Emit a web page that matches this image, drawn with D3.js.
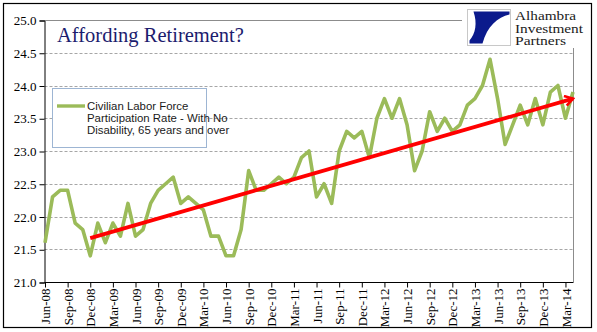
<!DOCTYPE html>
<html><head><meta charset="utf-8">
<script src="https://cdn.jsdelivr.net/npm/d3@7/dist/d3.min.js"></script>
<style>html,body{margin:0;padding:0;background:#fff;}svg{display:block;}</style>
</head><body><svg id="c" width="597" height="332"></svg>
<script>
const months = ["Jun-08","Jul-08","Aug-08","Sep-08","Oct-08","Nov-08","Dec-08","Jan-09","Feb-09","Mar-09","Apr-09","May-09",
"Jun-09","Jul-09","Aug-09","Sep-09","Oct-09","Nov-09","Dec-09","Jan-10","Feb-10","Mar-10","Apr-10","May-10",
"Jun-10","Jul-10","Aug-10","Sep-10","Oct-10","Nov-10","Dec-10","Jan-11","Feb-11","Mar-11","Apr-11","May-11",
"Jun-11","Jul-11","Aug-11","Sep-11","Oct-11","Nov-11","Dec-11","Jan-12","Feb-12","Mar-12","Apr-12","May-12",
"Jun-12","Jul-12","Aug-12","Sep-12","Oct-12","Nov-12","Dec-12","Jan-13","Feb-13","Mar-13","Apr-13","May-13",
"Jun-13","Jul-13","Aug-13","Sep-13","Oct-13","Nov-13","Dec-13","Jan-14","Feb-14","Mar-14","Apr-14"];
const rate = [21.6,22.3,22.4,22.4,21.9,21.8,21.4,21.9,21.6,21.9,21.7,22.2,
21.7,21.8,22.2,22.4,22.5,22.6,22.2,22.3,22.2,22.1,21.7,21.7,
21.4,21.4,21.8,22.7,22.4,22.4,22.5,22.6,22.5,22.6,22.9,23.0,
22.3,22.5,22.2,23.0,23.3,23.2,23.3,22.9,23.5,23.8,23.5,23.8,
23.4,22.7,23.0,23.6,23.3,23.5,23.3,23.4,23.7,23.8,24.0,24.4,
23.8,23.1,23.4,23.7,23.4,23.8,23.4,23.9,24.0,23.5,23.9];
const tickLabels = ["Jun-08","Sep-08","Dec-08","Mar-09","Jun-09","Sep-09","Dec-09","Mar-10","Jun-10","Sep-10","Dec-10","Mar-11",
"Jun-11","Sep-11","Dec-11","Mar-12","Jun-12","Sep-12","Dec-12","Mar-13","Jun-13","Sep-13","Dec-13","Mar-14"];
const yTicks = [21.0,21.5,22.0,22.5,23.0,23.5,24.0,24.5,25.0];
const trendMonths = ["Dec-08","Apr-14"];
const trendValues = [21.67,23.8];
const title = "Affording Retirement?";
const legendLines = ["Civilian Labor Force","Participation Rate - With No","Disability, 65 years and over"];
const logoLines = ["Alhambra","Investment","Partners"];

const svg = d3.select("#c");
const L = 44.5, R = 573, T = 20, B = 282;
const x = d3.scalePoint().domain(months).range([45, R]);
const y = d3.scaleLinear().domain([21, 25]).range([B, T]);
const serif = "'Liberation Serif','Times New Roman',serif";
const sans = "'Liberation Sans',Arial,sans-serif";

// gridlines
svg.append("g").selectAll("line").data(yTicks.filter(v => v > 21 && v < 25)).join("line")
  .attr("x1", L).attr("x2", R).attr("y1", d => Math.round(y(d)) + 0.5).attr("y2", d => Math.round(y(d)) + 0.5)
  .attr("stroke", "#a6a6a6").attr("stroke-dasharray", "3,2").attr("stroke-width", 1);
// plot border top/right
svg.append("path").attr("d", `M${L},${Math.round(y(25))+0.5}H${R+0.5}V${B}`)
  .attr("fill", "none").attr("stroke", "#8c8c8c").attr("stroke-width", 1);

// y axis
const yAxis = d3.axisLeft(y).tickValues(yTicks).tickFormat(d3.format(".1f")).tickSize(5).tickPadding(3);
const gy = svg.append("g").attr("transform", `translate(${L},0.5)`).call(yAxis);
gy.select(".domain").attr("stroke", "#000");
gy.selectAll(".tick line").attr("stroke", "#000");
gy.selectAll("text").attr("font-family", serif).attr("font-size", 13).attr("fill", "#000");

// x axis
const xAxis = d3.axisBottom(x).tickValues(tickLabels).tickSize(5).tickPadding(3);
const gx = svg.append("g").attr("transform", `translate(0,${B+0.5})`).call(xAxis);
gx.select(".domain").attr("stroke", "#000").attr("d", `M${L},0H${R+0.5}`);
gx.selectAll(".tick line").attr("stroke", "#000");
gx.selectAll("text").attr("font-family", serif).attr("font-size", 13).attr("fill", "#000")
  .attr("transform", "rotate(-90)").attr("text-anchor", "end")
  .attr("x", -6).attr("y", 0).attr("dy", "0.35em");

// series line
svg.append("path").datum(rate)
  .attr("d", d3.line().x((d, i) => x(months[i])).y(d => y(d)))
  .attr("fill", "none").attr("stroke", "#9bbb59").attr("stroke-width", 3.6).attr("stroke-linejoin", "round");

// trend arrow
svg.append("defs").append("marker").attr("id", "arr")
  .attr("viewBox", "-10 -6 12 12").attr("refX", 0).attr("refY", 0)
  .attr("markerWidth", 12).attr("markerHeight", 12).attr("markerUnits", "userSpaceOnUse").attr("orient", "auto")
  .append("path").attr("d", "M-8,-5L0,0L-8,5").attr("fill", "none").attr("stroke", "#ff0000").attr("stroke-width", 2.6);
svg.append("path").datum(trendMonths.map((m, i) => [x(m), y(trendValues[i])]))
  .attr("d", d3.line()).attr("fill", "none").attr("stroke", "#ff0000").attr("stroke-width", 3.8)
  .attr("marker-end", "url(#arr)");

// title
svg.append("text").attr("x", 57).attr("y", 42).text(title)
  .attr("font-family", serif).attr("font-size", 20.5).attr("fill", "#1c1c6e");

// legend
const lg = svg.append("g");
lg.append("rect").attr("x", 52.5).attr("y", 88.5).attr("width", 154).attr("height", 59)
  .attr("fill", "#fff").attr("stroke", "#9db5d3");
lg.append("line").attr("x1", 57).attr("x2", 85).attr("y1", 106).attr("y2", 106)
  .attr("stroke", "#9bbb59").attr("stroke-width", 3.4);
lg.selectAll("text").data(legendLines).join("text")
  .attr("x", 87).attr("y", (d, i) => 110 + i * 12).text(d => d)
  .attr("font-family", sans).attr("font-size", 11.4).attr("fill", "#1a1a1a");

// logo
const logo = svg.append("g");
logo.append("rect").attr("x", 462).attr("y", 5).attr("width", 128).attr("height", 43).attr("fill", "#fff");
logo.append("rect").attr("x", 467.5).attr("y", 9.5).attr("width", 43).attr("height", 36)
  .attr("fill", "#fff").attr("stroke", "#c8c8c8");
logo.append("path").attr("transform", "translate(467.5,9.5)")
  .attr("d", "M6,2 L42,2 L42,5 C30,8 20,16 15,34 L2,34 L2,31 C8,24 10,14 6,2 Z")
  .attr("fill", "#0b1a8c");
logo.append("path").attr("transform", "translate(467.5,9.5)")
  .attr("d", "M42,5 C34,10 30,20 31,34 L42,34 Z").attr("fill", "#fff");
const logoWidths = [61, 68, 51];
logo.selectAll("text.l").data(logoLines).join("text").attr("class", "l")
  .attr("x", 515).attr("y", (d, i) => 20 + i * 12.5).text(d => d)
  .attr("textLength", (d, i) => logoWidths[i]).attr("lengthAdjust", "spacingAndGlyphs")
  .attr("font-family", serif).attr("font-size", 11.5).attr("fill", "#1a1a1a");

// outer border
svg.append("rect").attr("x", 3.5).attr("y", 3.5).attr("width", 588).attr("height", 324)
  .attr("fill", "none").attr("stroke", "#000").attr("stroke-width", 1.2);
</script></body></html>
